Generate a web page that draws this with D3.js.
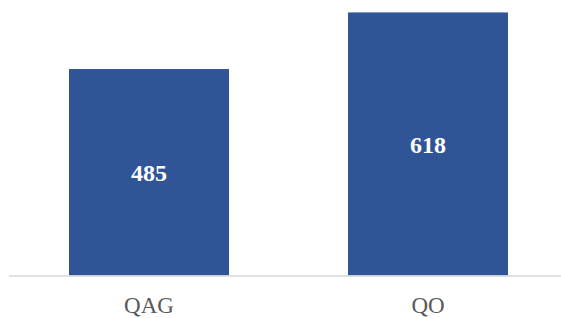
<!DOCTYPE html>
<html><head><meta charset="utf-8">
<script src="https://cdn.jsdelivr.net/npm/d3@7"></script>
<style>html,body{margin:0;padding:0;background:#fff;}svg{display:block;}</style>
</head><body>
<svg id="chart" width="561" height="318"></svg>
<script>
const categories = ["QAG", "QO"];
const values = [485, 618];

const svg = d3.select("#chart");
const baseY = 275.5;
const x = d3.scaleBand().domain(categories).range([9.5, 567.5]).paddingInner(0.4265).paddingOuter(0.2133);
const y = d3.scaleLinear().domain([0, 700]).range([baseY, baseY - 298]);

svg.selectAll("rect.bar").data(categories).enter().append("rect")
  .attr("class", "bar")
  .attr("x", d => x(d))
  .attr("width", x.bandwidth())
  .attr("y", (d, i) => y(values[i]))
  .attr("height", (d, i) => y(0) - y(values[i]))
  .attr("fill", "#2F5597");

svg.append("line").attr("x1", 9).attr("x2", 561).attr("y1", baseY + 0.5).attr("y2", baseY + 0.5)
  .attr("stroke", "#D9D9D9").attr("stroke-width", 1.5);

svg.selectAll("text.val").data(categories).enter().append("text")
  .attr("class", "val")
  .attr("x", d => x(d) + x.bandwidth() / 2)
  .attr("y", (d, i) => (y(values[i]) + y(0)) / 2 + 9)
  .attr("text-anchor", "middle")
  .attr("fill", "#fff")
  .attr("font-family", "'Liberation Serif', serif")
  .attr("font-weight", "bold")
  .attr("font-size", "24px")
  .text((d, i) => values[i]);

svg.selectAll("text.cat").data(categories).enter().append("text")
  .attr("class", "cat")
  .attr("x", d => x(d) + x.bandwidth() / 2)
  .attr("y", 313)
  .attr("text-anchor", "middle")
  .attr("fill", "#595959")
  .attr("font-family", "'Liberation Serif', serif")
  .attr("font-size", "23px")
  .text(d => d);
</script>
</body></html>
